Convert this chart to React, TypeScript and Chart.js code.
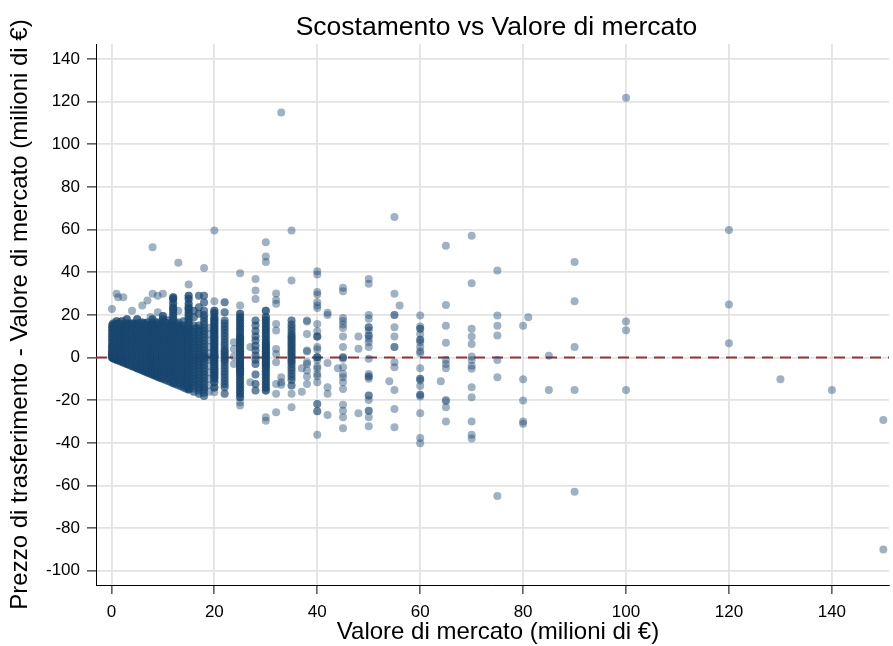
import { useEffect, useRef } from "react";
import { Chart, registerables } from "chart.js";

Chart.register(...registerables);

const chartTitle = "Scostamento vs Valore di mercato";
const xAxisTitle = "Valore di mercato (milioni di €)";
const yAxisTitle = "Prezzo di trasferimento - Valore di mercato (milioni di €)";

const xTickValues = [0, 20, 40, 60, 80, 100, 120, 140];
const yTickValues = [-100, -80, -60, -40, -20, 0, 20, 40, 60, 80, 100, 120, 140];
const xRange = [-3, 151.1];
const yRange = [-106.7, 147.1];
const referenceDeviation = 0;

// Market values below 20 M€ (dense cluster) and the deviations observed at each
const smallMarketValues = [
  0.1, 0.3, 0.5, 0.8, 1, 1.3, 1.6, 2, 2.3, 2.6, 3, 3.3, 3.6, 4, 4.3, 4.6, 5, 5.3, 5.6, 6,
  6.3, 6.6, 7, 7.3, 7.6, 8, 8.3, 8.6, 9, 9.3, 9.6, 10, 10.5, 11, 11.5, 12, 12.5, 13, 13.5,
  14, 14.5, 15, 15.5, 16, 16.5, 17, 17.5, 18, 19,
];
// how many transfers share each listed deviation in that column (overlapping markers)
const smallRepeats = [
  2, 2, 3, 2, 3, 2, 2, 3, 2, 2, 3, 2, 2, 3, 2, 2, 3, 2, 2, 3,
  2, 2, 3, 2, 2, 3, 2, 2, 3, 2, 2, 3, 2, 2, 2, 3, 2, 2, 2,
  2, 2, 3, 1, 2, 1, 2, 1, 2, 1,
];
const smallDeviations = [
  [0, 0.5, 1, 1.5, 2, 3, 4, 5, 6, 7.5, 9, 10.5, 12, 13.5, 15],
  [-0.3, 0, 0.5, 1, 2, 3, 4, 5.5, 7, 8.5, 10, 11.5, 13, 14.5, 16],
  [-0.5, 0, 0.5, 1, 2, 3, 4, 5, 6.5, 8, 9.5, 11, 12.5, 14, 15.5],
  [-0.8, -0.3, 0, 1, 2, 3, 4.5, 6, 7.5, 9, 10.5, 12, 13.5, 15],
  [-1, -0.5, 0, 0.5, 1, 2, 3, 4, 5, 6.5, 8, 9.5, 11, 12.5, 14, 15.5, 17],
  [-1.3, -0.7, 0, 1, 2, 3.5, 5, 6.5, 8, 9.5, 11, 12.5, 14, 16],
  [-1.6, -1, -0.3, 0.5, 1.5, 2.5, 4, 5.5, 7, 8.5, 10, 11.5, 13, 14.5, 16],
  [-2, -1.5, -1, 0, 0.5, 1, 2, 3, 4, 5, 6.5, 8, 9.5, 11, 12.5, 14, 15.5, 17],
  [-2.3, -1.5, -0.5, 0.5, 1.5, 3, 4.5, 6, 7.5, 9, 10.5, 12, 13.5, 15],
  [-2.6, -2, -1, 0, 1, 2, 3.5, 5, 6.5, 8, 9.5, 11, 12.5, 14, 15.5],
  [-3, -2.5, -1.5, -0.5, 0, 1, 2, 3, 4, 5.5, 7, 8.5, 10, 11.5, 13, 14.5, 16, 18],
  [-3.3, -2.5, -1.5, 0, 1, 2.5, 4, 5.5, 7, 8.5, 10, 11.5, 13, 14.5, 16],
  [-3.6, -2.8, -2, -1, 0, 1, 2, 3.5, 5, 6.5, 8, 9.5, 11, 12.5, 14, 15.5],
  [-4, -3.5, -2.5, -1.5, -0.5, 0, 1, 2, 3, 4, 5.5, 7, 8.5, 10, 11.5, 13, 14.5, 16],
  [-4.3, -3.2, -2, -0.5, 1, 2.5, 4, 5.5, 7, 8.5, 10, 11.5, 13, 14.5, 16],
  [-4.6, -3.5, -2.5, -1, 0, 1.5, 3, 4.5, 6, 7.5, 9, 10.5, 12, 13.5, 15],
  [-5, -4.5, -3.5, -2.5, -1.5, -0.5, 0, 1, 2, 3, 4, 5.5, 7, 8.5, 10, 11.5, 13, 14.5, 16, 18],
  [-5.3, -4, -2.5, -1, 0.5, 2, 3.5, 5, 6.5, 8, 9.5, 11, 12.5, 14, 15.5],
  [-5.6, -4.5, -3.5, -2, -0.5, 1, 2.5, 4, 5.5, 7, 8.5, 10, 11.5, 13, 14.5, 16],
  [-6, -5.5, -4.5, -3.5, -2.5, -1.5, -0.5, 0, 1, 2, 3, 4.5, 6, 7.5, 9, 10.5, 12, 13.5, 15, 16.5],
  [-6.3, -5, -3.5, -2, -0.5, 1, 2.5, 4, 5.5, 7, 8.5, 10, 11.5, 13, 14.5, 16],
  [-6.6, -5.5, -4, -2.5, -1, 0.5, 2, 3.5, 5, 6.5, 8, 9.5, 11, 12.5, 14, 15.5],
  [-7, -6.5, -5.5, -4.5, -3.5, -2.5, -1.5, -0.5, 0, 1, 2, 3, 4.5, 6, 7.5, 9, 10.5, 12, 13.5, 15, 16.5],
  [-7.3, -6, -4.5, -3, -1.5, 0, 1.5, 3, 4.5, 6, 7.5, 9, 10.5, 12, 13.5, 15],
  [-7.6, -6.5, -5, -3.5, -2, -0.5, 1, 2.5, 4, 5.5, 7, 8.5, 10, 11.5, 13, 14.5],
  [-8, -7.5, -6.5, -5.5, -4.5, -3.5, -2.5, -1.5, -0.5, 0, 1, 2, 3, 4.5, 6, 7.5, 9, 10.5, 12, 13.5, 15, 16.5, 18],
  [-8.3, -7, -5.5, -4, -2.5, -1, 0.5, 2, 3.5, 5, 6.5, 8, 9.5, 11, 12.5, 14, 15.5],
  [-8.6, -7.5, -6, -4.5, -3, -1.5, 0, 1.5, 3, 4.5, 6, 7.5, 9, 10.5, 12, 13.5, 15],
  [-9, -8.5, -7.5, -6.5, -5.5, -4.5, -3.5, -2.5, -1.5, -0.5, 0, 1, 2, 3, 4.5, 6, 7.5, 9, 10.5, 12, 13.5, 15, 16.5],
  [-9.3, -8, -6.5, -5, -3.5, -2, -0.5, 1, 2.5, 4, 5.5, 7, 8.5, 10, 11.5, 13, 14.5, 16],
  [-9.6, -8.5, -7, -5.5, -4, -2.5, -1, 0.5, 2, 3.5, 5, 6.5, 8, 9.5, 11, 12.5, 14, 15.5],
  [-10, -9.5, -8.5, -7.5, -6.5, -5.5, -4.5, -3.5, -2.5, -1.5, -0.5, 0, 1, 2, 3, 4.5, 6, 7.5, 9, 10.5, 12, 13.5, 15, 16.5, 18, 19.5],
  [-10.5, -9, -7.5, -6, -4.5, -3, -1.5, 0, 1.5, 3, 4.5, 6, 7.5, 9, 10.5, 12, 13.5, 15, 16.5],
  [-11, -10, -8.5, -7, -5.5, -4, -2.5, -1, 0, 1, 2.5, 4, 5.5, 7, 8.5, 10, 11.5, 13, 14.5, 16, 17.5],
  [-11.5, -10, -8.5, -7, -5.5, -4, -2.5, -1, 0.5, 2, 3.5, 5, 6.5, 8, 9.5, 11, 12.5, 14, 15.5],
  [-12, -11.5, -10.5, -9.5, -8.5, -7.5, -6.5, -5.5, -4.5, -3.5, -2.5, -1.5, -0.5, 0, 1, 2, 3, 4.5, 6, 7.5, 9, 10.5, 12, 13.5, 15, 16.5, 18, 19.5, 21, 22.5, 23.6, 25.5, 27.5, 28.3],
  [-12.5, -11, -9.5, -8, -6.5, -5, -3.5, -2, -0.5, 1, 2.5, 4, 5.5, 7, 8.5, 10, 11.5, 13, 14.5, 16],
  [-13, -12, -10.5, -9, -7.5, -6, -4.5, -3, -1.5, 0, 1.5, 3, 4.5, 6, 7.5, 9, 10.5, 12, 13.5, 15, 16.5],
  [-13.5, -12, -10.5, -9, -7.5, -6, -4.5, -3, -1.5, 0, 1.5, 3, 4.5, 6, 7.5, 9, 10.5, 12, 13.5, 15],
  [-14, -13, -11.5, -10, -8.5, -7, -5.5, -4, -2.5, -1, 0, 1.5, 3, 4.5, 6, 7.5, 9, 10.5, 12, 13.5, 15, 17],
  [-14.5, -12.5, -10.5, -8.5, -6.5, -4.5, -2.5, -0.5, 1.5, 3.5, 5.5, 7.5, 9.5, 11.5, 13.5],
  [-15, -14.5, -13.5, -12.5, -11.5, -10.5, -9.5, -8.5, -7.5, -6.5, -5.5, -4.5, -3.5, -2.5, -1.5, -0.5, 0, 1, 2, 3, 4.5, 6, 7.5, 9, 10.5, 12, 13.5, 15, 16.5, 18, 19.5, 21, 22.5, 23.6, 25.2, 27.5, 29],
  [-12, -9, -6, -3, 0, 3, 6, 9, 12],
  [-16, -14.5, -13, -11.5, -10, -8.5, -7, -5.5, -4, -2.5, -1, 0, 1.5, 3, 4.5, 6, 7.5, 9, 10.5, 12, 13.5, 15, 18.9, 22],
  [-13, -10, -7, -4, -1, 2, 5, 8, 11, 14],
  [-17, -15.5, -14, -12.5, -11, -9.5, -8, -6.5, -5, -3.5, -2, -0.5, 0, 1.5, 3, 4.5, 6, 7.5, 9, 10.5, 12, 13.5, 15, 20.5, 23.6, 29],
  [-14, -11, -8, -5, -2, 1, 4, 7, 10, 13],
  [-18, -16.5, -15, -14, -12.5, -11, -9.5, -8, -6.5, -5, -3.5, -2, -0.5, 0, 1, 2, 3.5, 5, 6.5, 8, 9.5, 11, 12.5, 14, 15.5, 17, 18.5, 20, 22, 25.8, 29],
  [-16, -13, -10, -7, -4, -1, 0, 2, 5, 8, 11, 14],
];

// Market values 20–38 M€
const midMarketValues = [20, 22, 23.8, 25, 27, 28, 30, 32, 33, 35, 37, 38];
const midRepeats = [3, 2, 1, 3, 1, 2, 3, 1, 1, 2, 1, 1];
const midDeviations = [
  [-14, -11.6, -10, -9, -8, -7, -6, -5, -4, -3, -2, -1, 0, 0.5, 1, 2, 3, 4, 5, 6, 7, 8, 9, 10, 11, 12, 13, 14, 15, 16, 17, 18, 19, 20.8, 22],
  [26, 21.3, 17.4, 16, 14.5, 13, 11.5, 10, 8.5, 7, 5.5, 4, 3, 2, 1, 0, -1, -2, -3.5, -5, -6.5, -8, -9.5, -11, -12.5, -13.9, -17],
  [7.2, 4, 0.5, -3],
  [20.5, 18.9, 17.5, 16, 14.5, 13, 11.5, 10, 9, 8, 7, 6, 5, 4, 3, 2, 1, 0, -1, -2, -3, -4, -5, -6, -7, -8, -9.5, -11, -12.5, -14, -15.5, -17, -18.6],
  [4.9, -11.6],
  [17.4, 15, 12.5, 10, 8, 5.5, 3.3, 1, -1, -3, -8, -12.4, -15.5],
  [22, 19, 17.5, 16, 14.5, 13, 11.5, 10, 8.5, 7, 6, 5, 4, 3, 2, 1, 0, -1, -2, -3, -4, -5, -6.5, -8, -9.5, -11, -12.5, -14, -15.5],
  [30, 27, 25.2, 15.8, 12.7, 4, 1.7, -2.2, -12.4, -17, -25.7],
  [115, -9.2, -11.6, -12.7],
  [17.4, 15.5, 14, 12.5, 11, 10, 9, 8, 7, 6, 5, 4, 3, 2, 1, 0, -1, -2, -3, -4.5, -6, -7.5, -9, -10.5, -13.1],
  [-5, -16],
  [17.4, 16.9, 11.1, 3.3, 2.8, -2.2, -3, -6.1, -8.9, -12.4],
];

// Isolated transfers below 40 M€ (single markers away from the dense columns)
const isolatedMarketValues = [0.1, 1, 1.3, 2.3, 4, 6, 7, 7.6, 8, 9, 10, 13, 15, 18, 20, 25, 28, 30, 35];
const isolatedDeviations = [
  [22.8],
  [29.9],
  [28.3],
  [28.3],
  [22],
  [24.4],
  [26.8],
  [19],
  [29.9, 51.8],
  [21.3, 29],
  [29.9],
  [22, 44.5],
  [34.3],
  [42],
  [59.6, 26.4, -16.3],
  [39.6, 24.4, -21, -22.5],
  [36.9, 31.5, 27.5],
  [54.1, 47.4, 44.8, -28, -29.6],
  [59.6, 36.2, -17, -23.3],
];

// Market values 40 M€ and above
const largeMarketValues = [40, 42, 44, 45, 48, 50, 54, 55, 56, 60, 64, 65, 70, 75, 80, 81, 85, 90, 100, 120, 130, 140, 150];
const largeDeviations = [
  [40.5, 39, 30.7, 29.6, 26, 24.4, 23.3, 15.8, 12.4, 9.9, 9.9, 9.9, 4.9, 3.8, 0.2, 0.2, 0.2, -1.1, -4.2, -5.3, -7.7, -8.8, -11.6, -21.8, -21.8, -25.2, -25.2, -36.2],
  [21, 20, -2.5, -13.9, -17, -27],
  [-5],
  [32.7, 31.1, 18.6, 17.1, 15.5, 13.9, 9.9, 4.9, 0.2, 0.2, -0.6, -4.5, -7.7, -9.2, -11.6, -14.7, -22.1, -24.9, -28, -33.2],
  [9.9, 4.1, -26.1],
  [36.9, 34.6, 20, 18.2, 14.2, 14.2, 12.7, 10.3, 10.3, 8.8, 7.2, 4.9, -0.6, -7.7, -8.9, -8.9, -10, -17.8, -17.8, -19.9, -24.9, -24.9, -28, -32.2],
  [-11.1],
  [65.9, 29.9, 20, 20, 14.2, 9.9, 4.9, 4.9, -2.2, -4.5, -15.2, -24.1, -32.7],
  [24.4],
  [19.7, 14.6, 13.5, 13.5, 11.1, 8.3, 8.3, 7.2, 4.9, 3, 2, -5, -10, -10, -10.8, -13.3, -17.5, -17.5, -18.3, -26.1, -37.7, -40.2],
  [-11.1],
  [52.4, 24.7, 14.9, 6.9, -1.1, -3, -5, -19.9, -20.5, -23.3, -30],
  [57.1, 34.9, 13.5, 9.9, 6.4, 0.5, -1.1, -3.8, -5.3, -13.9, -18.6, -30, -36.2, -38],
  [40.8, 19.7, 14.9, 10.3, -1.1, -9.2, -65],
  [14.9, -10.2, -20.2, -30, -31.1],
  [18.9],
  [0.9, -15.2],
  [44.8, 26.4, 4.9, -15.2, -63],
  [121.9, 16.9, 12.8, -15.2],
  [59.8, 24.9, 6.7],
  [-10.2],
  [-15.2],
  [-29.3, -90],
];

const FONT = "'Liberation Sans', Arial, Helvetica, sans-serif";
const MARKER = "rgba(26, 71, 111, 0.42)";
const REFLINE = "rgb(144, 53, 59)";
const GRID = "#e3e3e3";

function toPoints(xs: number[], ys: number[][], repeats?: number[]) {
  const out: { x: number; y: number }[] = [];
  xs.forEach((x, i) => {
    const n = repeats ? repeats[i] : 1;
    ys[i].forEach((y) => {
      for (let k = 0; k < n; k++) out.push({ x, y });
    });
  });
  return out;
}

export default function App() {
  const ref = useRef<HTMLCanvasElement>(null);

  useEffect(() => {
    document.body.style.margin = "0";
    const canvas = ref.current;
    if (!canvas) return;

    const points = [
      ...toPoints(smallMarketValues, smallDeviations, smallRepeats),
      ...toPoints(midMarketValues, midDeviations, midRepeats),
      ...toPoints(isolatedMarketValues, isolatedDeviations),
      ...toPoints(largeMarketValues, largeDeviations),
    ];

    const titles = {
      id: "plotTitles",
      afterDraw(chart: any) {
        const { ctx, chartArea } = chart;
        const cx = (chartArea.left + chartArea.right) / 2;
        ctx.save();
        ctx.fillStyle = "#000";
        ctx.textAlign = "center";
        ctx.textBaseline = "alphabetic";
        ctx.font = `26.5px ${FONT}`;
        ctx.fillText(chartTitle, cx + 4, 35);
        ctx.font = `24px ${FONT}`;
        ctx.fillText(xAxisTitle, cx + 5.5, 639);
        ctx.restore();
      },
    };

    const tickFont = { family: FONT, size: 17 };

    const chart = new Chart(canvas, {
      type: "scatter",
      data: {
        datasets: [
          {
            type: "scatter",
            data: points,
            backgroundColor: MARKER,
            borderWidth: 0,
            pointRadius: 4,
            pointHoverRadius: 4,
            order: 0,
          },
          {
            type: "line",
            data: [
              { x: xRange[0], y: referenceDeviation },
              { x: xRange[1], y: referenceDeviation },
            ],
            borderColor: REFLINE,
            borderWidth: 2,
            borderDash: [11, 7],
            pointRadius: 0,
            fill: false,
            order: 1,
          },
        ],
      } as any,
      options: {
        responsive: false,
        animation: false,
        events: [],
        layout: { padding: { top: 44, right: 0, left: 0, bottom: 0 } },
        plugins: {
          legend: { display: false },
          tooltip: { enabled: false },
          title: { display: false },
        },
        scales: {
          x: {
            type: "linear",
            min: xRange[0],
            max: xRange[1],
            afterBuildTicks: (s: any) => {
              s.ticks = xTickValues.map((v) => ({ value: v }));
            },
            afterFit: (s: any) => {
              s.height = 61;
            },
            grid: { color: GRID, lineWidth: 1.8, tickColor: "#000", tickLength: 9, tickWidth: 1 },
            border: { display: true, color: "#000", width: 1 },
            ticks: { font: tickFont, color: "#000", padding: 8, maxRotation: 0 },
            title: { display: false },
          },
          y: {
            type: "linear",
            min: yRange[0],
            max: yRange[1],
            afterBuildTicks: (s: any) => {
              s.ticks = yTickValues.map((v) => ({ value: v }));
            },
            afterFit: (s: any) => {
              s.width = 96;
            },
            grid: { color: GRID, lineWidth: 1.8, tickColor: "#000", tickLength: 9, tickWidth: 1 },
            border: { display: true, color: "#000", width: 1 },
            ticks: { font: tickFont, color: "#000", padding: 7 },
            title: {
              display: true,
              text: yAxisTitle,
              color: "#000",
              font: { family: FONT, size: 24 },
              padding: { top: 6, bottom: 0 },
            },
          },
        },
      } as any,
      plugins: [titles],
    });

    return () => chart.destroy();
  }, []);

  return (
    <div style={{ width: 893, height: 646 }}>
      <canvas ref={ref} width={893} height={646} style={{ display: "block" }} />
    </div>
  );
}
